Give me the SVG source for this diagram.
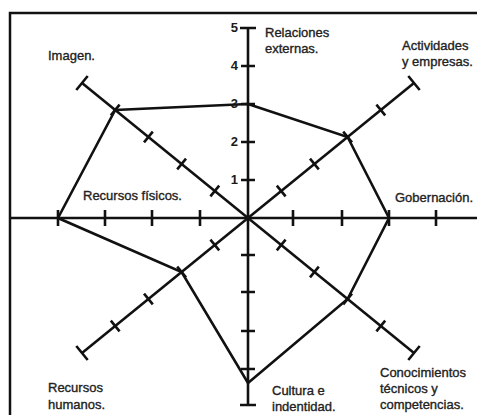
<svg xmlns="http://www.w3.org/2000/svg" width="477" height="415" viewBox="0 0 477 415">
<style>
.frame{fill:none;stroke:#111;stroke-width:2.5}
.axis{fill:none;stroke:#111;stroke-width:2.6;stroke-linecap:butt}
.tick{fill:none;stroke:#111;stroke-width:2.6;stroke-linecap:butt}
.poly{fill:none;stroke:#111;stroke-width:2.6;stroke-linejoin:miter}
.lbl{font-family:"Liberation Sans",Arial,sans-serif;font-size:13px;fill:#222;stroke:#222;stroke-width:0.35}
.num{font-family:"Liberation Sans",Arial,sans-serif;font-size:13px;font-weight:bold;fill:#1a1a1a;text-anchor:end}
</style>
<rect x="0" y="0" width="477" height="415" fill="#fff"/>
<g id="frame">
<path class="frame" d="M10,415 L10,13 L477,13"/>
</g>
<g id="connectors">
<g id="axis-vertical">
<path class="axis" d="M248,28 L248,405"/>
<path class="tick" d="M241,180 H255 M241,142 H255 M241,104 H255 M241,66 H255 M240,28 H256 M241,255 H255 M241,292 H255 M241,331 H255 M241,369 H255 M240,405 H256"/>
</g>
<g id="axis-horizontal">
<path class="axis" d="M10,218 L477,218"/>
<path class="tick" d="M58,210 V226 M105,210 V226 M152,210 V226 M200,210 V226 M293,210 V226 M342,210 V226 M389,210 V226 M436,210 V226"/>
</g>
<g id="axis-diag1">
<path class="axis" d="M82,83 L414,353"/>
<path class="tick" d="M210.4,196.4 L219.2,185.6 M177.2,169.4 L186,158.6 M144,142.4 L152.8,131.6 M110.8,115.4 L119.6,104.6 M76.3,90 L87.7,76 M276.8,250.4 L285.6,239.6 M310,277.4 L318.8,266.6 M343.2,304.4 L352,293.6 M376.4,331.4 L385.2,320.6 M408.3,360 L419.7,346"/>
</g>
<g id="axis-diag2">
<path class="axis" d="M414,83 L82,353"/>
<path class="tick" d="M276.8,185.6 L285.6,196.4 M310,158.6 L318.8,169.4 M343.2,131.6 L352,142.4 M376.4,104.6 L385.2,115.4 M408.3,76 L419.7,90 M210.4,239.6 L219.2,250.4 M177.2,266.6 L186,277.4 M144,293.6 L152.8,304.4 M110.8,320.6 L119.6,331.4 M76.3,346 L87.7,360"/>
</g>
<g id="profile">
<polygon class="poly" points="248,104 347.6,137 389,218 347.6,299 248,383 181.6,272 58,218 115.2,110"/>
</g>
</g>
<g id="scale">
<text class="num" x="238" y="32">5</text>
<text class="num" x="238" y="70">4</text>
<text class="num" x="238" y="108">3</text>
<text class="num" x="238" y="146">2</text>
<text class="num" x="238" y="184">1</text>
</g>
<g id="node-relaciones"><text class="lbl" x="265" y="37">Relaciones</text><text class="lbl" x="265" y="53">externas.</text></g>
<g id="node-actividades"><text class="lbl" x="402" y="50">Actividades</text><text class="lbl" x="402" y="66">y empresas.</text></g>
<g id="node-gobernacion"><text class="lbl" x="395" y="202">Gobernación.</text></g>
<g id="node-conocimientos"><text class="lbl" x="380" y="377">Conocimientos</text><text class="lbl" x="380" y="393">técnicos y</text><text class="lbl" x="380" y="409">competencias.</text></g>
<g id="node-cultura"><text class="lbl" x="272" y="395">Cultura e</text><text class="lbl" x="272" y="411">indentidad.</text></g>
<g id="node-humanos"><text class="lbl" x="48" y="392">Recursos</text><text class="lbl" x="48" y="409">humanos.</text></g>
<g id="node-fisicos"><text class="lbl" x="83" y="200">Recursos físicos.</text></g>
<g id="node-imagen"><text class="lbl" x="48" y="60">Imagen.</text></g>
</svg>
